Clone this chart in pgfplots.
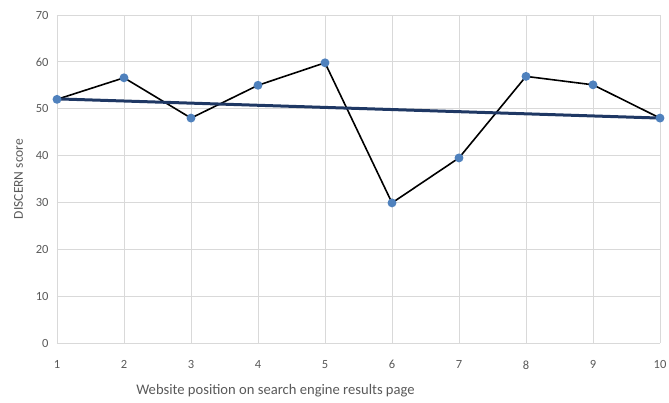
\documentclass[border=0pt]{standalone}
\usepackage{pgfplots}
\pgfplotsset{compat=1.18}
\usepackage{fontspec}
\setmainfont{Carlito}
\definecolor{gridc}{HTML}{D9D9D9}
\definecolor{txt}{HTML}{595959}
\definecolor{mk}{HTML}{4F81BD}
\definecolor{trend}{HTML}{1F3864}
\begin{document}
\begin{tikzpicture}[x=1pt,y=1pt]
\path[use as bounding box] (-57,-60) rectangle (612,343);
\begin{axis}[
  at={(0,0)}, anchor=south west,
  scale only axis, width=603pt, height=328pt,
  xmin=1, xmax=10, ymin=0, ymax=70,
  xtick={1,...,10}, ytick={0,10,...,70},
  grid=major, major grid style={gridc, line width=0.75pt},
  axis line style={draw=none},
  major tick length=0pt,
  tick label style={font=\fontsize{12.5}{14}\selectfont, text=txt},
  /pgf/number format/assume math mode=true,
  xticklabel style={yshift=-14pt},
  yticklabel style={xshift=-5pt},
  xlabel={Website position on search engine results page},
  xlabel style={font=\fontsize{14.6}{16}\selectfont, text=txt, yshift=-8pt, xshift=-83pt},
  ylabel={DISCERN score},
  ylabel style={font=\fontsize{13.5}{15}\selectfont, text=txt, yshift=6pt},
  clip=false,
]
\draw[gridc, line width=0.75pt] (axis cs:1,0) -- (axis cs:10,0);
\addplot[black, line width=1.6pt, mark=*, mark size=3.6pt, mark options={fill=mk, draw=mk}] coordinates {
(1,52) (2,56.6) (3,48) (4,55) (5,59.8) (6,29.9) (7,39.5) (8,56.9) (9,55.1) (10,48)
};
\addplot[trend, line width=3pt] coordinates {(1,52.1) (10,48)};
\end{axis}
\end{tikzpicture}
\end{document}
